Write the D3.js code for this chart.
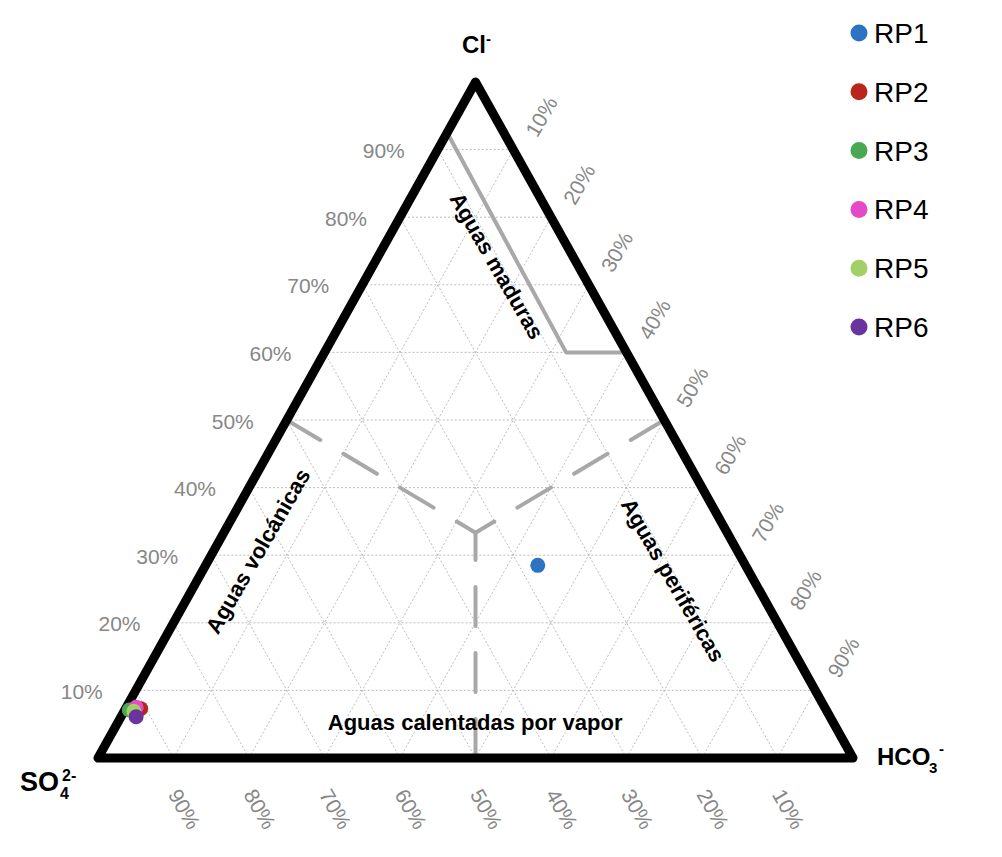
<!DOCTYPE html>
<html>
<head>
<meta charset="utf-8">
<script src="https://cdn.jsdelivr.net/npm/d3@7"></script>
<style>
body { margin: 0; background: #fff; }
svg text { font-family: "Liberation Sans", Arial, sans-serif; }
.grid { stroke: #b4b4b4; stroke-width: 0.9; stroke-dasharray: 2,2; fill: none; }
.tick { fill: #878787; font-size: 21px; }
.zone { font-weight: bold; font-size: 22px; fill: #000; }
.apex { font-weight: bold; fill: #000; }
</style>
</head>
<body>
<div id="chart"></div>
<script>
// muestras (porcentajes de Cl, HCO3, SO4)
var samples = ["RP1", "RP2", "RP3", "RP4", "RP5", "RP6"];
var colors  = ["#2e72c4", "#b9241c", "#4aa853", "#e748c6", "#a2d067", "#6a34a0"];
var clPct   = [28.5, 7.3, 7.1, 7.5, 6.9, 6.1];
var hco3Pct = [44.0, 2.0, 0.6, 1.3, 1.3, 2.0];
var so4Pct  = [27.5, 90.7, 92.3, 91.2, 91.8, 91.9];

var tickValues = [10, 20, 30, 40, 50, 60, 70, 80, 90];

// limites de zonas (cl, hco3)
var maduras = [[92.5, 0], [60, 32], [60, 40]];
var centro  = [100 / 3, 100 / 3];
var divisiones = [[[50, 0], centro], [[50, 50], centro], [[0, 50], centro]];

var zonas = [
	{ texto: "Aguas maduras",      cl: 72.8, hco3: 16.4, rot: 60 },
	{ texto: "Aguas volcánicas",   cl: 30.6, hco3: 5.9,  rot: -60 },
	{ texto: "Aguas periféricas",  cl: 26.3, hco3: 63.0, rot: 60 },
	{ texto: "Aguas calentadas por vapor", cl: 5.3, hco3: 47.3, rot: 0 }
];

function giggenbach()
{
	var width  = 1002;
	var height = 857;

	var x = d3.scaleLinear().domain([0, 100]).range([98, 853]);
	var y = d3.scaleLinear().domain([0, 100]).range([758, 82]);
	function px(cl, hco3) { return x(hco3 + cl / 2); }
	function py(cl) { return y(cl); }

	var svg = d3.select("#chart").append("svg").attr("width", width).attr("height", height);

	// rejilla punteada
	var g = svg.append("g");
	tickValues.forEach(function(v) {
		// Cl constante
		g.append("line").attr("class", "grid")
			.attr("x1", px(v, 0)).attr("y1", py(v))
			.attr("x2", px(v, 100 - v)).attr("y2", py(v));
		// SO4 constante
		g.append("line").attr("class", "grid")
			.attr("x1", px(0, 100 - v)).attr("y1", py(0))
			.attr("x2", px(100 - v, 0)).attr("y2", py(100 - v));
		// HCO3 constante
		g.append("line").attr("class", "grid")
			.attr("x1", px(0, v)).attr("y1", py(0))
			.attr("x2", px(100 - v, v)).attr("y2", py(100 - v));
	});

	var linea = d3.line().x(function(d) { return px(d[0], d[1]); }).y(function(d) { return py(d[0]); });

	// aguas maduras
	svg.append("path").datum(maduras).attr("d", linea)
		.attr("fill", "none").attr("stroke", "#a8a8a8").attr("stroke-width", 4)
		.attr("stroke-linecap", "round").attr("stroke-linejoin", "round");

	// divisiones discontinuas
	svg.selectAll(".div").data(divisiones).enter().append("path")
		.attr("class", "div").attr("d", linea)
		.attr("fill", "none").attr("stroke", "#a8a8a8").attr("stroke-width", 4)
		.attr("stroke-dasharray", "39,27").attr("stroke-linecap", "round");

	// triangulo
	var bordes = [[0, 0], [0, 100], [100, 0]];
	svg.append("path")
		.attr("d", linea(bordes) + "Z")
		.attr("fill", "none").attr("stroke", "#000").attr("stroke-width", 9)
		.attr("stroke-linejoin", "round");

	// etiquetas Cl (izquierda)
	svg.selectAll(".tl").data(tickValues).enter().append("text")
		.attr("class", "tick").attr("text-anchor", "end").attr("dominant-baseline", "central")
		.attr("x", function(d) { return px(d, 0) - 33; })
		.attr("y", function(d) { return py(d) + 1; })
		.text(function(d) { return d + "%"; });

	// etiquetas HCO3 (derecha)
	svg.selectAll(".tr").data(tickValues).enter().append("text")
		.attr("class", "tick").attr("text-anchor", "middle").attr("dominant-baseline", "central")
		.attr("transform", function(d) {
			return "translate(" + (px(100 - d, d) + 28) + "," + (py(100 - d) - 33) + ") rotate(-60)";
		})
		.text(function(d) { return d + "%"; });

	// etiquetas SO4 (abajo)
	svg.selectAll(".tb").data(tickValues).enter().append("text")
		.attr("class", "tick").attr("text-anchor", "middle").attr("dominant-baseline", "central")
		.attr("transform", function(d) {
			return "translate(" + (px(0, 100 - d) + 11) + "," + (py(0) + 51) + ") rotate(60)";
		})
		.text(function(d) { return d + "%"; });

	// nombres de zonas
	svg.selectAll(".zone").data(zonas).enter().append("text")
		.attr("class", "zone").attr("text-anchor", "middle").attr("dominant-baseline", "central")
		.attr("transform", function(d) {
			return "translate(" + px(d.cl, d.hco3) + "," + py(d.cl) + ") rotate(" + d.rot + ")";
		})
		.text(function(d) { return d.texto; });

	// vertices
	var cl = svg.append("text").attr("class", "apex").attr("x", 462).attr("y", 53).style("font-size", "24px");
	cl.append("tspan").text("Cl");
	cl.append("tspan").attr("dy", -9).style("font-size", "15px").text("-");

	var so4 = svg.append("text").attr("class", "apex").attr("y", 791).style("font-size", "27px");
	so4.append("tspan").attr("x", 20).text("SO");
	so4.append("tspan").attr("x", 60).attr("y", 799).style("font-size", "16px").text("4");
	so4.append("tspan").attr("x", 62).attr("y", 781).style("font-size", "16px").text("2-");

	var hco3 = svg.append("text").attr("class", "apex").attr("y", 765).style("font-size", "24px");
	hco3.append("tspan").attr("x", 877).text("HCO");
	hco3.append("tspan").attr("x", 929).attr("y", 773).style("font-size", "15px").text("3");
	hco3.append("tspan").attr("x", 939).attr("y", 754).style("font-size", "15px").text("-");

	// puntos
	var data = samples.map(function(s, i) {
		return { name: s, cl: clPct[i], hco3: hco3Pct[i], so4: so4Pct[i], color: colors[i] };
	});
	svg.selectAll(".pt").data(data).enter().append("circle")
		.attr("class", "pt")
		.attr("cx", function(d) { return px(d.cl, d.hco3); })
		.attr("cy", function(d) { return py(d.cl); })
		.attr("r", 7.5)
		.attr("fill", function(d) { return d.color; });

	// leyenda
	var ly = d3.scaleLinear().domain([0, samples.length - 1]).range([33, 327]);
	var leg = svg.selectAll(".leg").data(data).enter().append("g").attr("class", "leg")
		.attr("transform", function(d, i) { return "translate(859," + ly(i) + ")"; });
	leg.append("circle").attr("r", 8.5).attr("fill", function(d) { return d.color; });
	leg.append("text").attr("x", 15).attr("y", 10).style("font-size", "28px").attr("fill", "#000")
		.text(function(d) { return d.name; });
}

giggenbach();
</script>
</body>
</html>
